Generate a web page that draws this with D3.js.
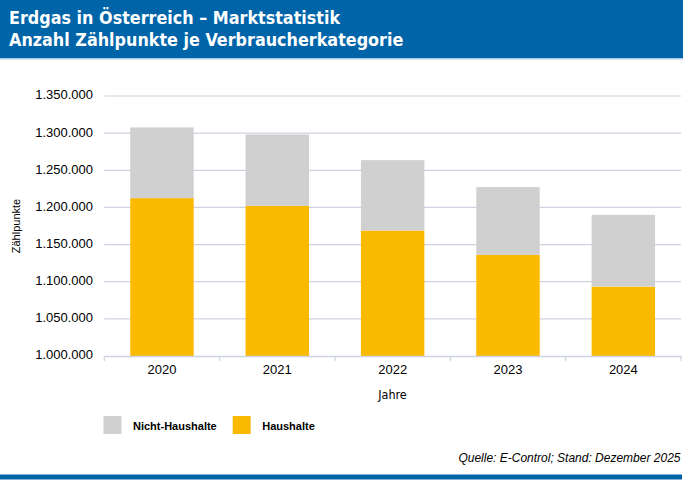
<!DOCTYPE html>
<html>
<head>
<meta charset="utf-8">
<script src="https://cdn.jsdelivr.net/npm/d3@7/dist/d3.min.js"></script>
<style>
  html, body { margin: 0; padding: 0; background: #fff; }
  svg { display: block; }
</style>
</head>
<body>
<svg id="chart" width="683" height="480"></svg>
<script>
// ---- data ----
const years = ["2020", "2021", "2022", "2023", "2024"];
const haushalte = [1212500, 1202200, 1168900, 1136100, 1093400];
const nichtHaushalte = [95200, 96000, 94800, 91300, 96600];
const yTicks = [1000000, 1050000, 1100000, 1150000, 1200000, 1250000, 1300000, 1350000];
const seriesNames = ["Haushalte", "Nicht-Haushalte"];
const seriesColors = ["#FBB900", "#D0D0D0"];
const titleLines = ["Erdgas in Österreich – Marktstatistik", "Anzahl Zählpunkte je Verbraucherkategorie"];

const svg = d3.select("#chart");
const W = 683, H = 480;
const narrow = "'Liberation Sans Narrow', 'DejaVu Sans Condensed', 'Liberation Sans', Arial, sans-serif";
const regular = "'Liberation Sans', Arial, sans-serif";

// header
svg.append("rect").attr("x", 0).attr("y", 0).attr("width", W).attr("height", 58).attr("fill", "#0064A9");
svg.append("rect").attr("x", 0).attr("y", 58).attr("width", W).attr("height", 1.5).attr("fill", "#A9CBE8");
svg.append("g").selectAll("text").data(titleLines).join("text")
  .attr("x", 9).attr("y", (d, i) => 24 + i * 22)
  .attr("fill", "#fff").attr("font-family", narrow).attr("font-weight", "bold")
  .attr("font-size", 17.8).text(d => d);

// scales
const x = d3.scaleBand().domain(years).range([104.3, 681]).paddingInner(0.45).paddingOuter(0.225);
const y = d3.scaleLinear().domain([1000000, 1350000]).range([356, 96]);

// gridlines
svg.append("g").selectAll("line").data(yTicks.slice(1)).join("line")
  .attr("x1", 104.3).attr("x2", 681).attr("y1", d => y(d)).attr("y2", d => y(d))
  .attr("stroke", "#CDD3E0").attr("stroke-width", 1.2);

// stacked bars
const table = years.map((yr, i) => ({ year: yr, Haushalte: haushalte[i], "Nicht-Haushalte": nichtHaushalte[i] }));
const stack = d3.stack().keys(seriesNames)(table);
const gBars = svg.append("g");
stack.forEach((layer, li) => {
  gBars.append("g").attr("fill", seriesColors[li]).selectAll("rect").data(layer).join("rect")
    .attr("x", d => x(d.data.year))
    .attr("width", x.bandwidth())
    .attr("y", d => y(d[1]))
    .attr("height", d => y(Math.max(d[0], 1000000)) - y(d[1]));
});

// x axis
const xAxis = d3.axisBottom(x).tickSize(0).tickPadding(0);
const gx = svg.append("g").attr("transform", "translate(0,356)").call(xAxis);
gx.select(".domain").attr("stroke", "#CDD3E0").attr("stroke-width", 1.5);
gx.selectAll("text").attr("font-family", regular).attr("font-size", 13).attr("fill", "#000")
  .attr("dy", null).attr("y", 18);
// tick marks at band boundaries
const bounds = years.map(d => x(d) - x.step() * x.paddingInner() / 2).concat([681]);
gx.append("g").selectAll("line").data(bounds).join("line")
  .attr("x1", d => d).attr("x2", d => d).attr("y1", 0).attr("y2", 5)
  .attr("stroke", "#CDD3E0").attr("stroke-width", 1.2);

// y axis labels
const yFmt = v => d3.format(",")(v).replace(/,/g, ".");
const yAxis = d3.axisLeft(y).tickValues(yTicks).tickSize(0).tickPadding(0).tickFormat(yFmt);
const gy = svg.append("g").attr("transform", "translate(93,0)").call(yAxis);
gy.select(".domain").remove();
gy.selectAll("text").attr("font-family", regular).attr("font-size", 13).attr("fill", "#000")
  .attr("dy", "0.22em").attr("x", 0);

// axis titles
svg.append("text").attr("transform", "translate(20,226) rotate(-90)").attr("text-anchor", "middle")
  .attr("font-family", regular).attr("font-size", 11).attr("fill", "#000").text("Zählpunkte");
svg.append("text").attr("x", 392.5).attr("y", 399).attr("text-anchor", "middle")
  .attr("font-family", narrow).attr("font-size", 12.5).attr("fill", "#000").text("Jahre");

// legend
const legendItems = [
  { name: "Nicht-Haushalte", color: seriesColors[1], x: 103.5 },
  { name: "Haushalte", color: seriesColors[0], x: 232.7 }
];
const lg = svg.append("g").selectAll("g").data(legendItems).join("g")
  .attr("transform", d => `translate(${d.x},416)`);
lg.append("rect").attr("width", 18).attr("height", 18).attr("fill", d => d.color);
lg.append("text").attr("x", 29.5).attr("y", 13.5).attr("font-family", regular).attr("font-weight", "bold")
  .attr("font-size", 11).attr("fill", "#000").text(d => d.name);

// source
svg.append("text").attr("x", 680.5).attr("y", 462).attr("text-anchor", "end")
  .attr("font-family", regular).attr("font-style", "italic").attr("font-size", 12)
  .attr("fill", "#000").text("Quelle: E-Control; Stand: Dezember 2025");

// bottom bar
svg.append("rect").attr("x", 0).attr("y", 474.5).attr("width", 682).attr("height", 5).attr("fill", "#0064A9");
</script>
</body>
</html>
